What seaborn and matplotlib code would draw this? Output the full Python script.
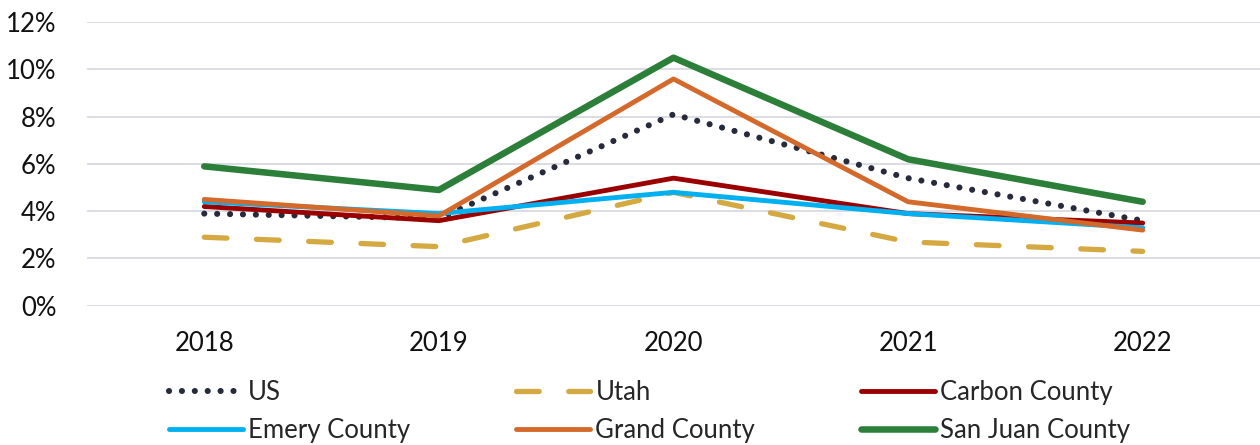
import matplotlib
matplotlib.use("Agg")
import matplotlib.pyplot as plt
import seaborn as sns
import pandas as pd
from matplotlib.ticker import FuncFormatter

years = ["2018", "2019", "2020", "2021", "2022"]
us = [3.9, 3.7, 8.1, 5.4, 3.6]
utah = [2.9, 2.5, 4.8, 2.7, 2.3]
carbon = [4.2, 3.6, 5.4, 3.9, 3.5]
emery = [4.4, 3.9, 4.8, 3.9, 3.3]
grand = [4.5, 3.8, 9.6, 4.4, 3.2]
san_juan = [5.9, 4.9, 10.5, 6.2, 4.4]

series_names = ["US", "Utah", "Carbon County", "Emery County", "Grand County", "San Juan County"]
series_values = [us, utah, carbon, emery, grand, san_juan]
colors = ["#262a3b", "#d4a942", "#9b0000", "#00b0f0", "#d4692c", "#2b7f38"]
widths = [4.4, 3.8, 3.5, 3.5, 3.5, 4.7]
styles = [(0, (0.01, 2.1)), (0, (4.3, 5.6)), "-", "-", "-", "-"]

sns.set_theme(style="white")
plt.rcParams["font.family"] = ["Lato", "DejaVu Sans"]

rows = []
for name, vals in zip(series_names, series_values):
    for y, v in zip(years, vals):
        rows.append({"Year": y, "Series": name, "Value": v})
df = pd.DataFrame(rows)

fig, ax = plt.subplots(figsize=(12.6, 4.45), dpi=100)
fig.subplots_adjust(left=0.069, right=1.0, top=0.95, bottom=0.313)

for name, c, lw, ls in zip(series_names, colors, widths, styles):
    sub = df[df["Series"] == name]
    sns.lineplot(data=sub, x="Year", y="Value", ax=ax, color=c, linewidth=lw,
                 label=name, sort=False)
    line = ax.lines[-1]
    line.set_linestyle(ls)
    line.set_dash_capstyle("round")
    line.set_solid_capstyle("round")

ax.set_ylim(0, 12)
ax.set_yticks(range(0, 13, 2))
ax.yaxis.set_major_formatter(FuncFormatter(lambda v, p: f"{int(v)}%"))
ax.set_xlim(-0.5, 4.5)
ax.grid(axis="y", color="#d9d9e3", linewidth=1.3)
ax.set_axisbelow(True)
for s in ax.spines.values():
    s.set_visible(False)
ax.set_xlabel("")
ax.set_ylabel("")
ax.tick_params(axis="both", labelsize=18.5, colors="#111111", length=0)
ax.tick_params(axis="y", pad=22)
ax.tick_params(axis="x", pad=18)

handles, labels = ax.get_legend_handles_labels()
order = [0, 3, 1, 4, 2, 5]  # row-major fill for 3 columns
ax.legend([handles[i] for i in order], [labels[i] for i in order],
          loc="upper left", bbox_to_anchor=(0.05, -0.18), ncol=3, frameon=False,
          fontsize=18.5, handlelength=2.9, handletextpad=0.2, columnspacing=4.1,
          labelspacing=0.5)

fig.savefig("out.png", dpi=100)
